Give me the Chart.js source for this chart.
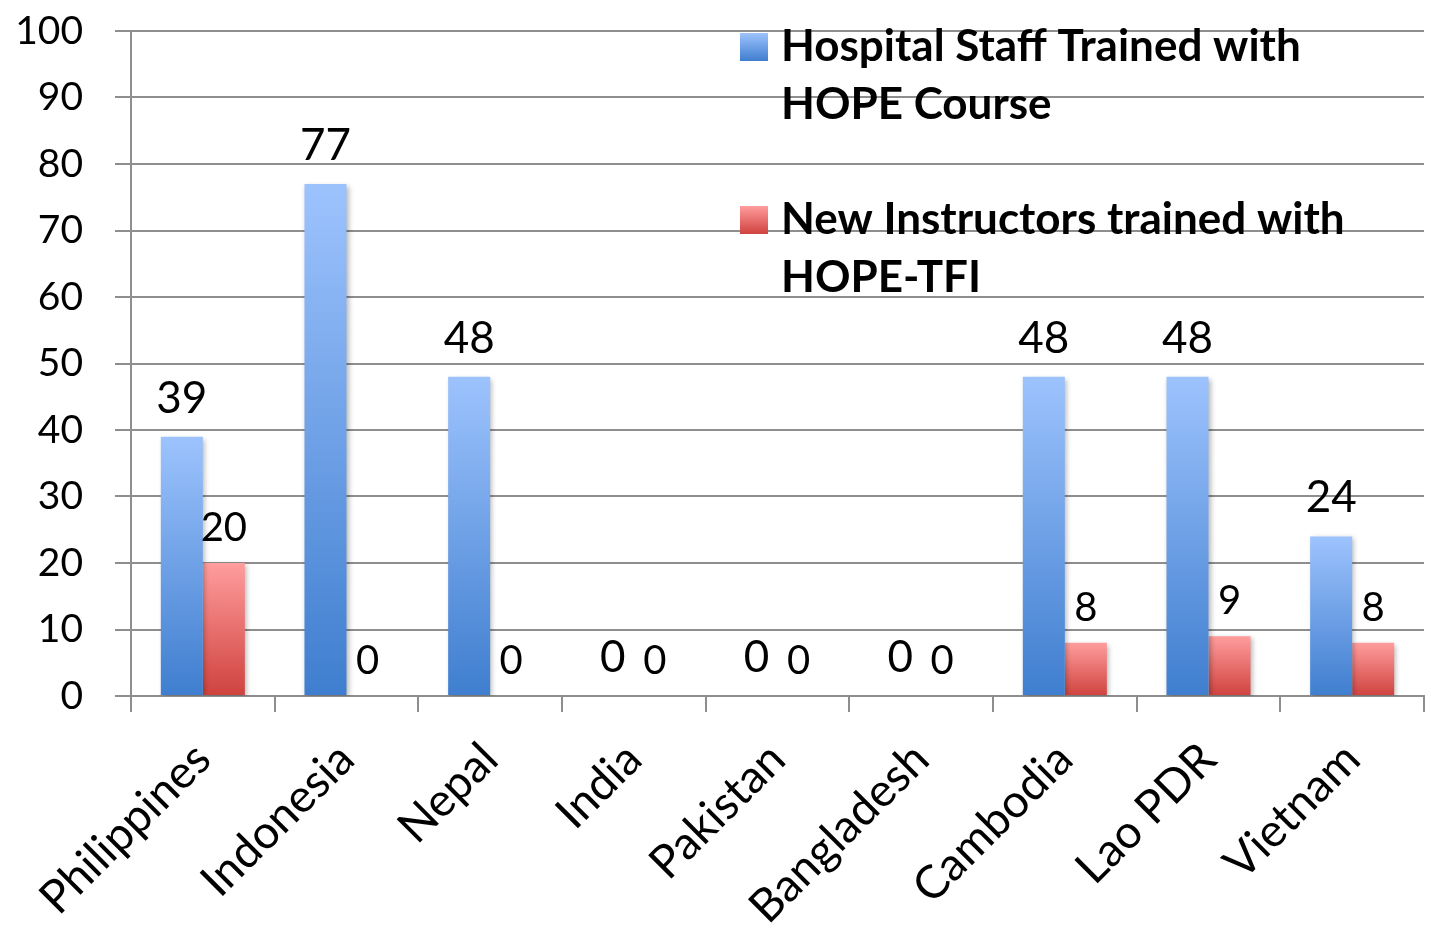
<!DOCTYPE html>
<html>
<head>
<meta charset="utf-8">
<script src="https://cdn.jsdelivr.net/npm/chart.js@4.4.1/dist/chart.umd.min.js"></script>
<style>
  html, body { margin: 0; padding: 0; background: #fff; }
  #wrap { width: 1431px; height: 929px; }
</style>
</head>
<body>
<div id="wrap"><canvas id="my-chart" width="1431" height="929"></canvas></div>
<script>
// chart data
var countries = ["Philippines", "Indonesia", "Nepal", "India", "Pakistan", "Bangladesh", "Cambodia", "Lao PDR", "Vietnam"];
var staffTrained = [39, 77, 48, 0, 0, 0, 48, 48, 24];
var instructorsTrained = [20, 0, 0, 0, 0, 0, 8, 9, 8];
var staffLabel = ["Hospital Staff Trained with", "HOPE Course"];
var instructorsLabel = ["New Instructors trained with", "HOPE-TFI"];
var yMin = 0, yMax = 100, yStep = 10;

var gridColor = "#8e8e8e";
var blueTop = "#9dc3fd", blueBottom = "#3f7ecf";
var redTop = "#ff9d9d", redBottom = "#cf423e";

// each bar gets its own light-to-dark gradient
function barGradient(top, bottom) {
  return function(context) {
    var chart = context.chart;
    if (!chart.chartArea || context.type !== 'data') return bottom;
    var y = chart.scales.y;
    var y0 = y.getPixelForValue(0);
    var y1 = y.getPixelForValue(context.raw);
    if (y0 - y1 < 1) return bottom;
    var g = chart.ctx.createLinearGradient(0, y1, 0, y0);
    g.addColorStop(0, top);
    g.addColorStop(1, bottom);
    return g;
  };
}

var barShadow = {
  id: 'barShadow',
  beforeDatasetDraw: function(chart) {
    var ctx = chart.ctx;
    ctx.save();
    ctx.shadowColor = "rgba(0,0,0,0.28)";
    ctx.shadowBlur = 5;
    ctx.shadowOffsetX = 2;
    ctx.shadowOffsetY = 2;
  },
  afterDatasetDraw: function(chart) {
    chart.ctx.restore();
  }
};

var valueLabels = {
  id: 'valueLabels',
  afterDatasetsDraw: function(chart) {
    var ctx = chart.ctx;
    chart.data.datasets.forEach(function(ds, i) {
      var meta = chart.getDatasetMeta(i);
      ctx.save();
      ctx.font = ds.valueFont;
      ctx.fillStyle = "#000";
      ctx.textAlign = "center";
      ctx.textBaseline = "alphabetic";
      meta.data.forEach(function(bar, j) {
        ctx.fillText(String(ds.data[j]), bar.x, bar.y - ds.valueGap);
      });
      ctx.restore();
    });
  }
};

var wrappedLegend = {
  id: 'wrappedLegend',
  afterDraw: function(chart) {
    var ctx = chart.ctx;
    var area = chart.chartArea;
    var boxX = area.left + 609;
    var textX = area.left + 650;
    var tops = [33, 206];
    chart.data.datasets.forEach(function(ds, i) {
      var top = tops[i];
      var g = ctx.createLinearGradient(0, top, 0, top + 28);
      g.addColorStop(0, ds.topColor);
      g.addColorStop(1, ds.bottomColor);
      ctx.save();
      ctx.fillStyle = g;
      ctx.fillRect(boxX, top, 28, 28);
      ctx.fillStyle = "#000";
      ctx.font = "bold 44px Lato";
      ctx.textAlign = "left";
      ctx.textBaseline = "alphabetic";
      ds.label.forEach(function(line, k) {
        ctx.fillText(line, textX, top + 28 + k * 58);
      });
      ctx.restore();
    });
  }
};

var ctx = document.getElementById("my-chart");

var chart = new Chart(ctx, {
  type: 'bar',
  data: {
    labels: countries,
    datasets: [
      {
        label: staffLabel,
        data: staffTrained,
        backgroundColor: barGradient(blueTop, blueBottom),
        topColor: blueTop,
        bottomColor: blueBottom,
        valueFont: "44px Lato",
        valueGap: 24,
        borderWidth: 0
      },
      {
        label: instructorsLabel,
        data: instructorsTrained,
        backgroundColor: barGradient(redTop, redBottom),
        topColor: redTop,
        bottomColor: redBottom,
        valueFont: "40px Lato",
        valueGap: 22,
        borderWidth: 0
      }
    ]
  },
  options: {
    responsive: false,
    animation: false,
    categoryPercentage: 0.585,
    barPercentage: 1,
    layout: { padding: { top: 31, right: 7, left: 0, bottom: 0 } },
    plugins: {
      legend: { display: false },
      tooltip: { enabled: false }
    },
    scales: {
      x: {
        offset: true,
        grid: { offset: true, drawOnChartArea: false, drawTicks: true, tickLength: 16, color: gridColor, lineWidth: 2 },
        border: { color: gridColor, width: 2 },
        ticks: {
          color: "#000",
          font: { family: "Lato", size: 46 },
          minRotation: 45,
          maxRotation: 45,
          autoSkip: false,
          padding: 20
        },
        afterFit: function(scale) { scale.height = 233; }
      },
      y: {
        min: yMin,
        max: yMax,
        ticks: {
          stepSize: yStep,
          color: "#000",
          font: { family: "Lato", size: 39 },
          padding: 32
        },
        grid: { color: gridColor, lineWidth: 2, tickLength: 16 },
        border: { color: gridColor, width: 2 },
        afterFit: function(scale) {
          scale.width = 131;
          scale.paddingTop = 0;
          scale.paddingBottom = 0;
        }
      }
    }
  },
  plugins: [barShadow, valueLabels, wrappedLegend]
});
</script>
</body>
</html>
